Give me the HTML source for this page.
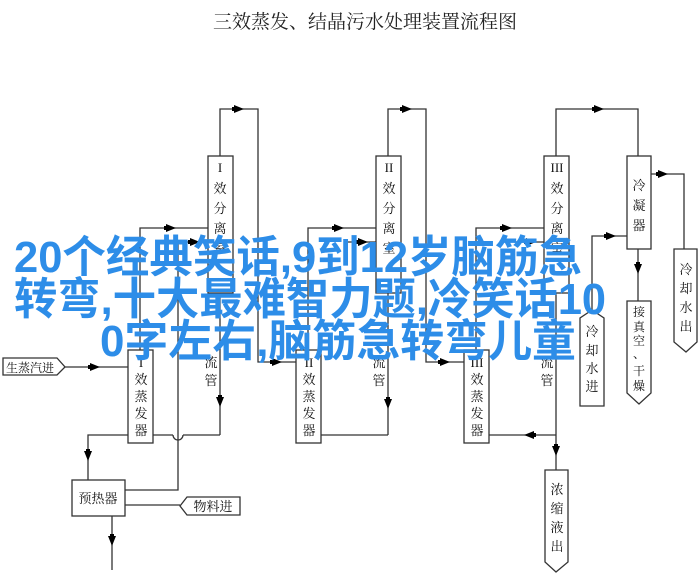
<!DOCTYPE html>
<html><head><meta charset="utf-8"><style>
html,body{margin:0;padding:0;background:#fff;}
svg{display:block;}
text{font-family:"Liberation Serif","Noto Serif CJK SC","Noto Sans CJK SC",serif;}
.b{font-family:"Liberation Sans","Noto Sans CJK SC",sans-serif;font-weight:bold;fill:#2d8de8;}
</style></head><body>
<svg width="700" height="581" viewBox="0 0 700 581" xmlns="http://www.w3.org/2000/svg">
<defs>
<g id="ar"><path d="M-6,-4 L4,0 L-6,4 Z" fill="#000"/><rect x="-8" y="-2" width="3" height="4" fill="#000"/></g>
</defs>
<text x="365" y="28" font-size="19" text-anchor="middle" fill="#222">三效蒸发、结晶污水处理装置流程图</text>
<g stroke="#333" stroke-width="1.3" fill="none">
<g id="st">
<rect x="208" y="156" width="25" height="137" fill="#fff"/>
<rect x="128" y="350" width="25" height="93" fill="#fff"/>
<polyline points="140,350 140,228 208,228"/>
<polyline points="220,293 220,435"/>
</g>
<use href="#st" x="168"/>
<use href="#st" x="336"/>
<polyline points="388,435 321,435"/>
<polyline points="556,435 489,435"/>
<polyline points="220,435 183,435"/>
<path d="M183,435 A5,5 0 0 1 173,435"/>
<polyline points="173,435 153,435"/>
<polyline points="220,156 220,109 258,109 258,362 296,362"/>
<polyline points="388,156 388,109 426,109 426,362 464,362"/>
<polyline points="556,156 556,109 638,109 638,156"/>
<polyline points="178,242 208,242"/>
<polyline points="346,242 376,242"/>
<polyline points="514,242 544,242"/>
<polyline points="125,490 178,490 178,242"/>
<polyline points="128,435 88,435 88,480"/>
<polyline points="65,367 128,367"/>
<polyline points="112,516 112,570"/>
<polyline points="125,505 180,505"/>
<polyline points="556,435 556,470"/>
<rect x="627" y="156" width="24" height="93" fill="#fff"/>
<polyline points="651,174 684,174 684,249"/>
<polyline points="638,249 638,301"/>
<polyline points="592,312 592,236 627,236"/>
<path d="M674,249 H697 V342 L686,352 L674,342 Z" fill="#fff"/>
<path d="M627,301 H651 V393 L639,404 L627,393 Z" fill="#fff"/>
<path d="M580,406 V318 L592,310 L604,318 V406 Z" fill="#fff"/>
<path d="M545,470 H568 V562 L556,572 L545,562 Z" fill="#fff"/>
<rect x="72" y="480" width="53" height="36" fill="#fff"/>
<path d="M3,358 H57 L65,367 L57,375 H3 Z" fill="#fff"/>
<path d="M240,497 H187 L180,506 L187,515 H240 Z" fill="#fff"/>
</g>
<use href="#ar" transform="translate(240,109)"/>
<use href="#ar" transform="translate(408,109)"/>
<use href="#ar" transform="translate(600,109)"/>
<use href="#ar" transform="translate(172,228)"/>
<use href="#ar" transform="translate(340,228)"/>
<use href="#ar" transform="translate(508,228)"/>
<use href="#ar" transform="translate(196,242)"/>
<use href="#ar" transform="translate(364,242)"/>
<use href="#ar" transform="translate(532,242)"/>
<use href="#ar" transform="translate(278,362)"/>
<use href="#ar" transform="translate(446,362)"/>
<use href="#ar" transform="translate(96,367)"/>
<use href="#ar" transform="translate(664,174)"/>
<use href="#ar" transform="translate(612,236)"/>
<use href="#ar" transform="translate(638,270) rotate(90)"/>
<use href="#ar" transform="translate(220,403) rotate(90)"/>
<use href="#ar" transform="translate(388,405) rotate(90)"/>
<use href="#ar" transform="translate(556,452) rotate(90)"/>
<use href="#ar" transform="translate(88,457) rotate(90)"/>
<use href="#ar" transform="translate(112,542) rotate(90)"/>
<use href="#ar" transform="translate(528,435) rotate(180)"/>
<g font-size="13" text-anchor="middle" fill="#111">
<text x="220" y="172">I</text><text x="220" y="193">效</text><text x="220" y="213">分</text><text x="220" y="233">离</text><text x="220" y="253">室</text>
<text x="389" y="172">II</text><text x="389" y="193">效</text><text x="389" y="213">分</text><text x="389" y="233">离</text><text x="389" y="253">室</text>
<text x="557" y="172">III</text><text x="557" y="193">效</text><text x="557" y="213">分</text><text x="557" y="233">离</text><text x="557" y="253">室</text>
<text x="141" y="367">I</text><text x="141" y="384">效</text><text x="141" y="401">蒸</text><text x="141" y="418">发</text><text x="141" y="435">器</text>
<text x="309" y="367">II</text><text x="309" y="384">效</text><text x="309" y="401">蒸</text><text x="309" y="418">发</text><text x="309" y="435">器</text>
<text x="477" y="367">III</text><text x="477" y="384">效</text><text x="477" y="401">蒸</text><text x="477" y="418">发</text><text x="477" y="435">器</text>
<text x="211" y="367">流</text><text x="211" y="385">管</text>
<text x="379" y="367">流</text><text x="379" y="385">管</text>
<text x="547" y="367">流</text><text x="547" y="385">管</text>
<text x="639" y="190">冷</text><text x="639" y="210">凝</text><text x="639" y="230">器</text>
<text x="686" y="274">冷</text><text x="686" y="293">却</text><text x="686" y="312">水</text><text x="686" y="331">出</text>
<text x="639" y="316" font-size="12">接</text><text x="639" y="331" font-size="12">真</text><text x="639" y="345" font-size="12">空</text><text x="639" y="358" font-size="12">、</text><text x="639" y="375" font-size="12">干</text><text x="639" y="390" font-size="12">燥</text>
<text x="592" y="336">冷</text><text x="592" y="355">却</text><text x="592" y="373">水</text><text x="592" y="391">进</text>
<text x="557" y="494">浓</text><text x="557" y="513">缩</text><text x="557" y="532">液</text><text x="557" y="551">出</text>
</g>
<g font-size="13" fill="#111">
<text x="98" y="503" text-anchor="middle">预热器</text>
<text x="213" y="511" text-anchor="middle">物料进</text>
<text x="30" y="372" text-anchor="middle" font-size="12">生蒸汽进</text>
</g>
<text class="b" x="14" y="272" font-size="44" textLength="568" lengthAdjust="spacingAndGlyphs">20个经典笑话,9到12岁脑筋急</text>
<text class="b" x="14" y="314" font-size="44" textLength="592" lengthAdjust="spacingAndGlyphs">转弯,十大最难智力题,冷笑话10</text>
<text class="b" x="100" y="356" font-size="44" textLength="476" lengthAdjust="spacingAndGlyphs">0字左右,脑筋急转弯儿童</text>
</svg>
</body></html>
